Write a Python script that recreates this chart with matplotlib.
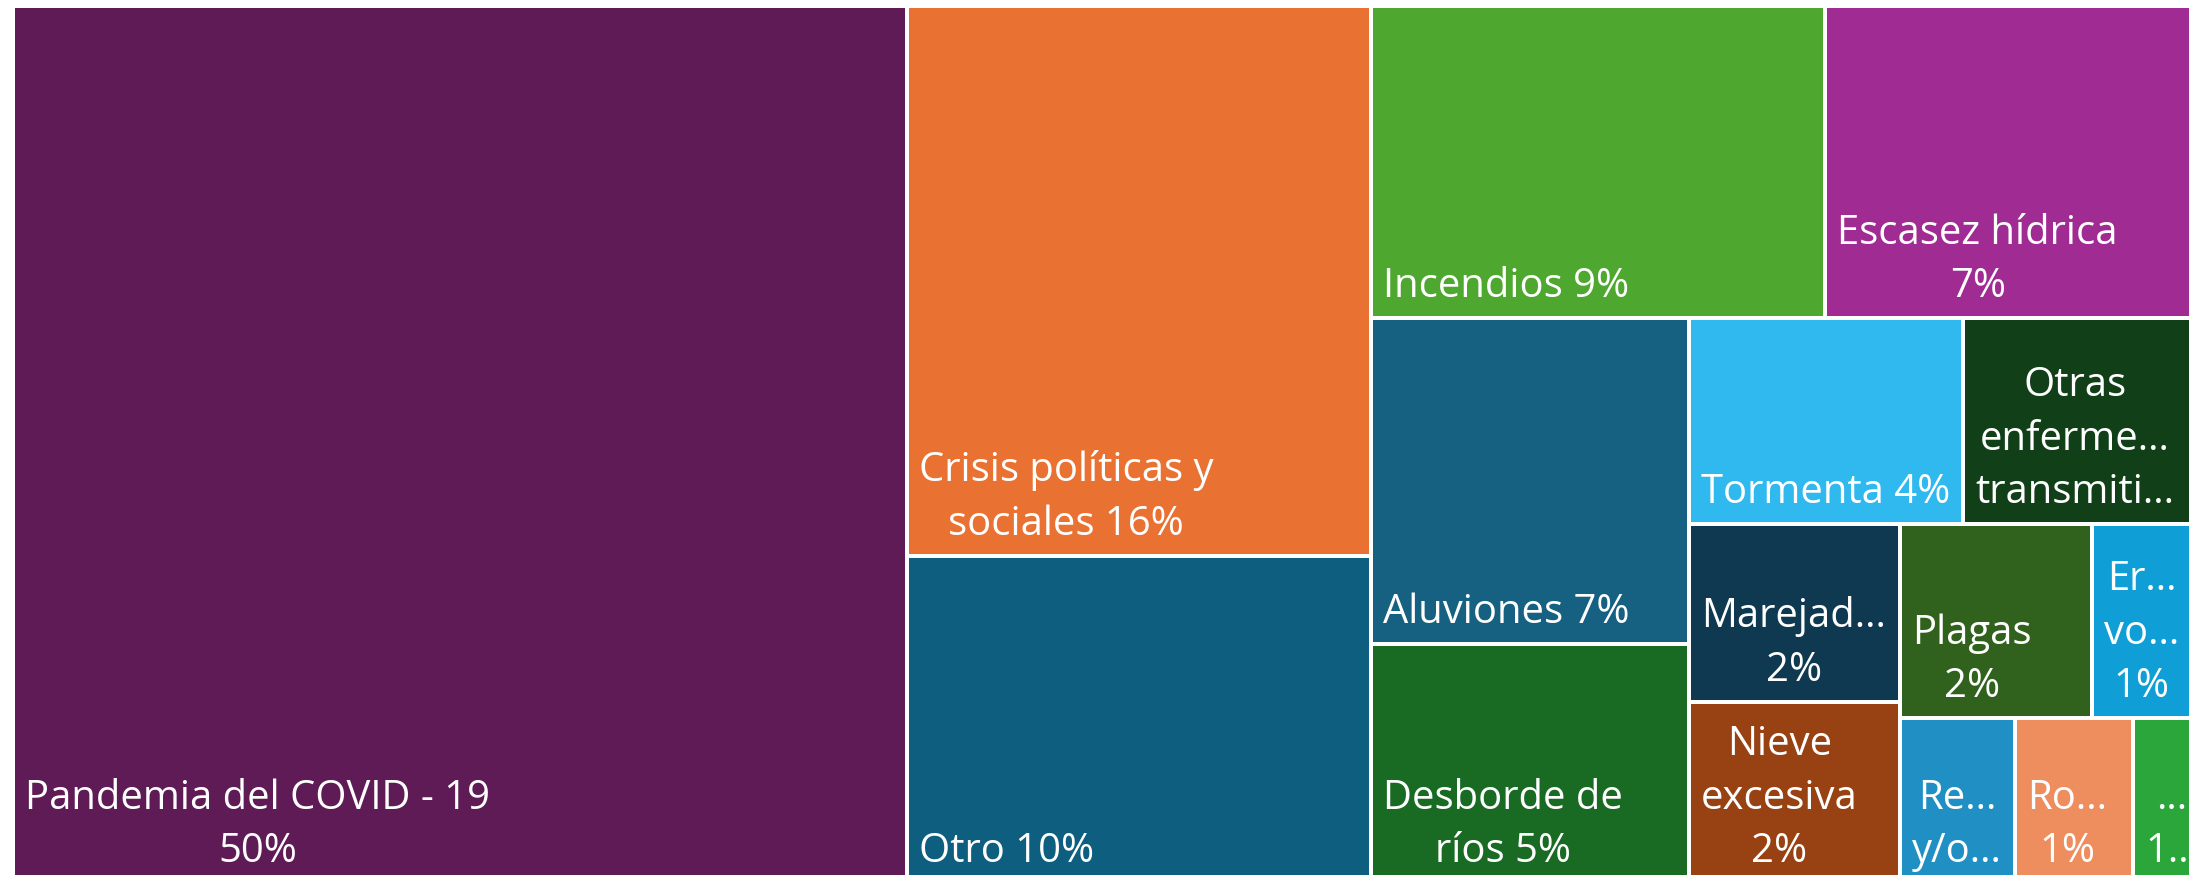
import matplotlib.pyplot as plt
from matplotlib.patches import Rectangle

# Treemap data (label text as shown in the chart, value = share in %)
labels = [
    "Pandemia del COVID - 19\n50%",
    "Crisis políticas y\nsociales 16%",
    "Otro 10%",
    "Incendios 9%",
    "Escasez hídrica\n7%",
    "Aluviones 7%",
    "Desborde de\nríos 5%",
    "Tormenta 4%",
    "Otras\nenferme...\ntransmiti...",
    "Marejad...\n2%",
    "Nieve\nexcesiva\n2%",
    "Plagas\n2%",
    "Er...\nvo...\n1%",
    "Re...\ny/o...",
    "Ro...\n1%",
    "...\n1...",
]
values = [50.0, 16.27, 9.68, 9.05, 7.28, 6.60, 4.85, 3.60, 2.99,
          2.39, 2.44, 2.37, 1.22, 1.21, 1.24, 0.61]
colors = ["#5F1B55", "#E97132", "#0E5E7F", "#4EA72E", "#A02B93",
          "#166082", "#196B24", "#30B9EF", "#113F17", "#0E3950",
          "#984112", "#31621D", "#0F9ED5", "#2090C4", "#EE8E5F", "#2AA63A"]


def worst(row, side):
    s = sum(row)
    return max(max(side * side * r / (s * s), s * s / (side * side * r)) for r in row)


def squarify(vals, x, y, w, h):
    total = sum(vals)
    areas = [v * w * h / total for v in vals]
    rects = []
    i = 0
    while i < len(areas):
        side = min(w, h)
        row = [areas[i]]
        j = i + 1
        while j < len(areas) and worst(row + [areas[j]], side) <= worst(row, side):
            row.append(areas[j])
            j += 1
        s = sum(row)
        if w >= h:
            cw = s / h
            yy = y
            for a in row:
                rects.append((x, yy, cw, a / cw))
                yy += a / cw
            x += cw
            w -= cw
        else:
            rh = s / w
            xx = x
            for a in row:
                rects.append((xx, y, a / rh, rh))
                xx += a / rh
            y += rh
            h -= rh
        i = j
    return rects


fig = plt.figure(figsize=(22.01, 8.75), dpi=100)
ax = fig.add_axes([0, 0, 1, 1])
ax.set_xlim(0, 2201)
ax.set_ylim(875, 0)
ax.axis("off")

gap = 2.0
# plot area runs a little past the bottom edge of the picture
rects = squarify(values, 13, 5.5, 2178, 877.5)
for (x, y, w, h), lab, col in zip(rects, labels, colors):
    ax.add_patch(Rectangle((x + gap, y + gap), w - 2 * gap, h - 2 * gap,
                           facecolor=col, edgecolor="none"))
    ax.text(x + gap + 10, y + h - gap - 19, lab,
            ha="left", va="baseline", multialignment="center",
            color="white", fontsize=28.8, family=["Open Sans", "DejaVu Sans"],
            linespacing=1.42)

fig.savefig("out.png", dpi=100)
